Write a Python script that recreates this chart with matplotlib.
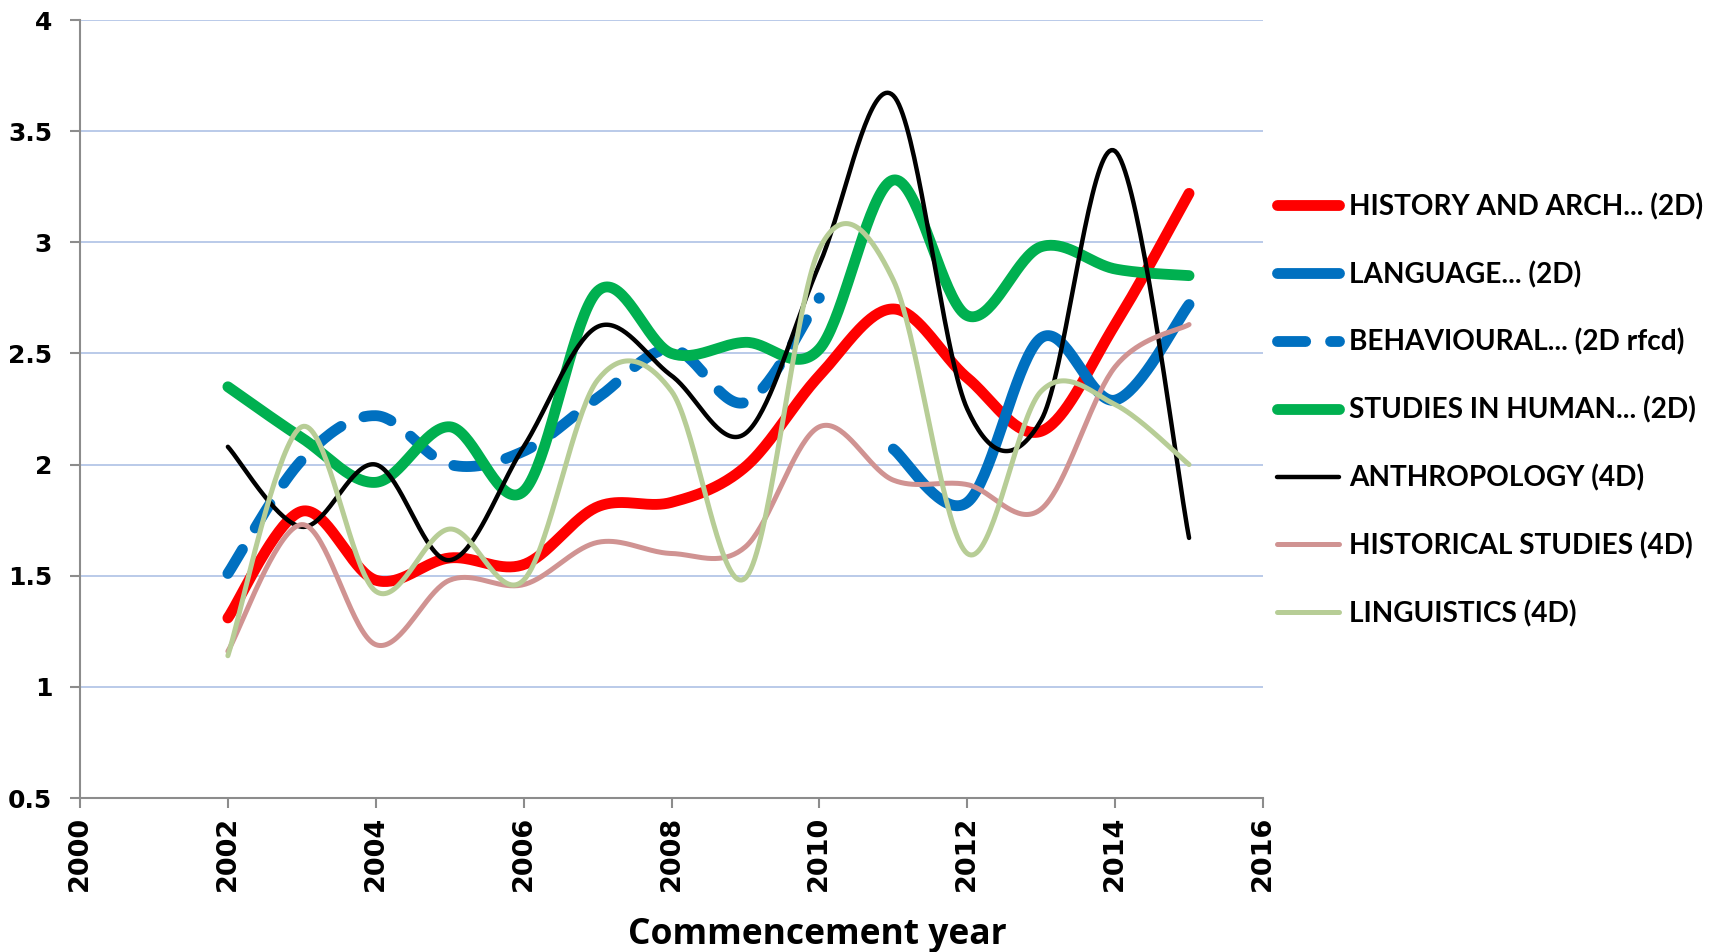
import numpy as np
import matplotlib
matplotlib.use('Agg')
import matplotlib.pyplot as plt

# Values, one point per commencement year
years = [2002, 2003, 2004, 2005, 2006, 2007, 2008, 2009, 2010, 2011, 2012, 2013, 2014, 2015]
history_arch = [1.31, 1.79, 1.48, 1.58, 1.55, 1.81, 1.83, 1.99, 2.40, 2.70, 2.39, 2.15, 2.63, 3.22]
studies_human = [2.35, 2.12, 1.92, 2.17, 1.88, 2.78, 2.50, 2.55, 2.52, 3.28, 2.67, 2.98, 2.88, 2.85]
anthropology = [2.08, 1.72, 2.00, 1.57, 2.08, 2.62, 2.40, 2.14, 2.90, 3.66, 2.25, 2.20, 3.41, 1.67]
historical = [1.16, 1.73, 1.19, 1.48, 1.46, 1.65, 1.60, 1.63, 2.17, 1.93, 1.91, 1.80, 2.44, 2.63]
linguistics = [1.14, 2.17, 1.43, 1.71, 1.48, 2.38, 2.33, 1.49, 2.97, 2.83, 1.60, 2.33, 2.27, 2.00]

language_years = [2011, 2012, 2013, 2014, 2015]
language = [2.07, 1.83, 2.57, 2.29, 2.72]

behav_years = [2002, 2003, 2004, 2005, 2006, 2007, 2008, 2009, 2010]
behavioural = [1.51, 2.02, 2.22, 2.00, 2.06, 2.30, 2.52, 2.28, 2.75]

labels = ['HISTORY AND ARCH... (2D)', 'LANGUAGE... (2D)', 'BEHAVIOURAL... (2D rfcd)',
          'STUDIES IN HUMAN... (2D)', 'ANTHROPOLOGY (4D)', 'HISTORICAL STUDIES (4D)',
          'LINGUISTICS (4D)']


def smooth(x, y, n=40):
    # Excel-style smoothed line: Catmull-Rom segments as cubic Beziers
    pts = np.column_stack([x, y]).astype(float)
    P = np.vstack([pts[0], pts, pts[-1]])
    t = np.linspace(0, 1, n)[:, None]
    out = []
    for i in range(1, len(P) - 2):
        p0, p1, p2, p3 = P[i - 1], P[i], P[i + 1], P[i + 2]
        c1 = p1 + (p2 - p0) / 6
        c2 = p2 - (p3 - p1) / 6
        seg = (1 - t)**3 * p1 + 3 * (1 - t)**2 * t * c1 + 3 * (1 - t) * t**2 * c2 + t**3 * p2
        out.append(seg if i == 1 else seg[1:])
    s = np.vstack(out)
    return s[:, 0], s[:, 1]


fig = plt.figure(figsize=(17.19, 9.52), dpi=100)
ax = fig.add_axes([80 / 1719, 1 - 798 / 952, (1263 - 80) / 1719, (798 - 20) / 952])

series = [
    (years, history_arch, dict(color='#FF0000', lw=7.8)),
    (language_years, language, dict(color='#0070C0', lw=7.8)),
    (behav_years, behavioural, dict(color='#0070C0', lw=7.8, dashes=(2.6, 2.3))),
    (years, studies_human, dict(color='#00B050', lw=7.8)),
    (years, anthropology, dict(color='#000000', lw=3.2)),
    (years, historical, dict(color='#D09392', lw=3.6)),
    (years, linguistics, dict(color='#B7CD96', lw=3.6)),
]
for (xs, ys, style), lab in zip(series, labels):
    sx, sy = smooth(xs, ys)
    ax.plot(sx, sy, label=lab, solid_capstyle='round', dash_capstyle='round', **style)

ax.set_xlim(2000, 2016)
ax.set_ylim(0.5, 4)
ax.set_xticks(range(2000, 2017, 2))
ax.set_yticks([0.5, 1, 1.5, 2, 2.5, 3, 3.5, 4])
ax.set_yticklabels(['0.5', '1', '1.5', '2', '2.5', '3', '3.5', '4'])

for y in [1, 1.5, 2, 2.5, 3, 3.5, 4]:
    ax.axhline(y, color='#B4C6E7', lw=1.3, zorder=0)

for s in ['top', 'right']:
    ax.spines[s].set_visible(False)
for s in ['left', 'bottom']:
    ax.spines[s].set_color('#8C8C8C')
    ax.spines[s].set_linewidth(1.5)

ax.tick_params(axis='both', direction='out', length=7, width=1.5, color='#8C8C8C')
ax.tick_params(axis='y', pad=13)
ax.tick_params(axis='x', pad=6)
for lab in ax.get_yticklabels():
    lab.set_fontsize(18)
    lab.set_fontweight('bold')
for lab in ax.get_xticklabels():
    lab.set_fontsize(19.5)
    lab.set_fontweight('bold')
    lab.set_rotation(90)

# the reference crops the bottom of this title at the image edge
fig.text(817 / 1719, 1 - 944 / 952, 'Commencement year', ha='center', va='baseline',
         fontsize=25.5, fontweight='bold', family='Open Sans')

fig.legend(loc='upper left', bbox_to_anchor=(1277 / 1719, 1 - 193 / 952),
           bbox_transform=fig.transFigure, frameon=False, borderpad=0, borderaxespad=0,
           handlelength=2.2, handletextpad=0.37, labelspacing=1.45,
           prop=dict(family='Lato', weight='bold', size=20.2))

fig.savefig('out.png', dpi=100)
